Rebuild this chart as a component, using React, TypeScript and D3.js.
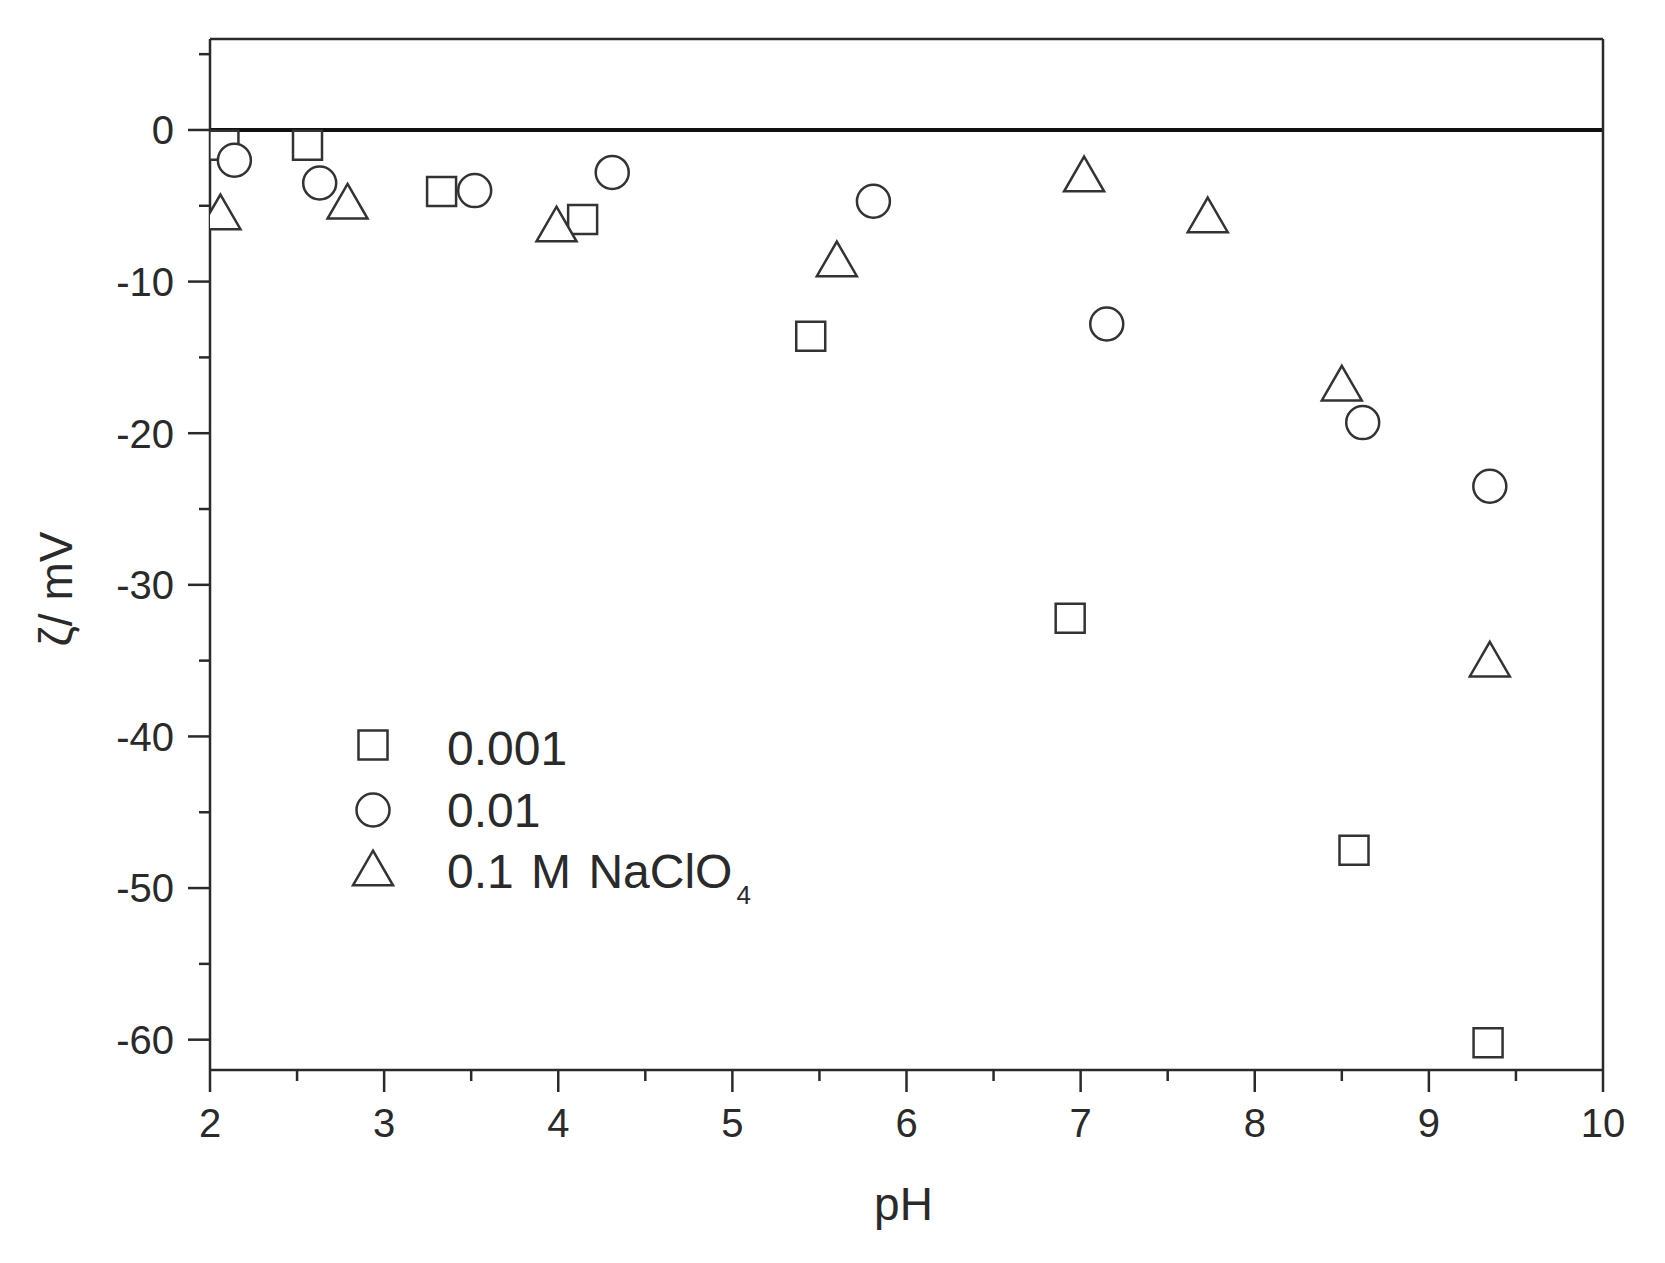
import React from 'react';
import * as d3 from 'd3';

// pH / zeta potential (mV) for each NaClO4 concentration
const phLow = [2.08, 2.56, 3.33, 4.14, 5.45, 6.94, 8.57, 9.34];
const zetaLow = [-1.0, -1.0, -4.05, -5.9, -13.6, -32.2, -47.5, -60.2];

const phMid = [2.14, 2.63, 3.52, 4.31, 5.81, 7.15, 8.62, 9.35];
const zetaMid = [-2.0, -3.5, -4.0, -2.8, -4.7, -12.8, -19.3, -23.5];

const phHigh = [2.06, 2.79, 3.99, 5.6, 7.02, 7.73, 8.5, 9.35];
const zetaHigh = [-5.4, -4.7, -6.2, -8.5, -2.9, -5.6, -16.7, -34.9];

const xTicks = [2, 3, 4, 5, 6, 7, 8, 9, 10];
const xMinorTicks = [2.5, 3.5, 4.5, 5.5, 6.5, 7.5, 8.5, 9.5];
const yTicks = [0, -10, -20, -30, -40, -50, -60];
const yMinorTicks = [5, -5, -15, -25, -35, -45, -55];

const legendLabels = ['0.001', '0.01', '0.1 M NaClO'];
const legendSub = ['', '', '4'];

const W = 1665;
const H = 1263;
const L = 210, R = 1603, T = 39, B = 1070;
const FONT = '"Liberation Sans", Arial, sans-serif';
const INK = '#2a2a2a';

export default function App() {
  const x = d3.scaleLinear().domain([2, 10]).range([L, R]);
  const y = d3.scaleLinear().domain([6, -62]).range([T, B]);

  const sq = d3.symbol().type(d3.symbolSquare).size(29 * 29)()!;
  const ci = d3.symbol().type(d3.symbolCircle).size(Math.PI * 16.5 * 16.5)()!;
  const triSize = 693;
  const tr = d3.symbol().type(d3.symbolTriangle).size(triSize)()!;
  const ty = Math.sqrt(triSize / (Math.sqrt(3) * 3));
  const triOff = ty / 2; // shift so bbox centre sits at the data point

  const series = [
    { xs: phLow, ys: zetaLow, path: sq, off: 0 },
    { xs: phMid, ys: zetaMid, path: ci, off: 0 },
    { xs: phHigh, ys: zetaHigh, path: tr, off: triOff },
  ];

  const legendY = [765, 827, 888];
  const legendSymY = [745, 810, 868];
  const legendPaths = [sq, ci, tr];
  const legendOff = [0, 0, triOff];

  return (
    <div style={{ position: 'absolute', left: 0, top: 0 }}>
      <svg width={W} height={H} style={{ display: 'block', background: '#fff' }}>
        <defs>
          <clipPath id="plotclip">
            <rect x={L} y={T} width={R - L} height={B - T} />
          </clipPath>
        </defs>
        <rect x={0} y={0} width={W} height={H} fill="#fff" />

        {/* zero line */}
        <line x1={L} x2={R} y1={y(0)} y2={y(0)} stroke="#111" strokeWidth={4} />

        {/* frame */}
        <line x1={L} x2={R} y1={T} y2={T} stroke={INK} strokeWidth={2.5} />
        <line x1={R} x2={R} y1={T} y2={B} stroke={INK} strokeWidth={2.5} />
        <line x1={L} x2={L} y1={T} y2={B} stroke={INK} strokeWidth={2.5} />
        <line x1={L} x2={R} y1={B} y2={B} stroke={INK} strokeWidth={2.5} />

        {/* x ticks */}
        {xTicks.map((t) => (
          <g key={'xt' + t}>
            <line x1={x(t)} x2={x(t)} y1={B} y2={B + 22} stroke={INK} strokeWidth={2.5} />
            <text x={x(t)} y={B + 67} textAnchor="middle" fontFamily={FONT} fontSize={40} fill={INK}>
              {t}
            </text>
          </g>
        ))}
        {xMinorTicks.map((t) => (
          <line key={'xm' + t} x1={x(t)} x2={x(t)} y1={B} y2={B + 11} stroke={INK} strokeWidth={2.5} />
        ))}

        {/* y ticks */}
        {yTicks.map((t) => (
          <g key={'yt' + t}>
            <line x1={L - 22} x2={L} y1={y(t)} y2={y(t)} stroke={INK} strokeWidth={2.5} />
            <text x={L - 36} y={y(t)} dy="0.36em" textAnchor="end" fontFamily={FONT} fontSize={40} fill={INK}>
              {t}
            </text>
          </g>
        ))}
        {yMinorTicks.map((t) => (
          <line key={'ym' + t} x1={L - 11} x2={L} y1={y(t)} y2={y(t)} stroke={INK} strokeWidth={2.5} />
        ))}

        {/* axis titles */}
        <text x={(L + R) / 2 - 3} y={1220} textAnchor="middle" fontFamily={FONT} fontSize={46} fill={INK}>
          pH
        </text>
        <text
          transform={`translate(72, 589) rotate(-90)`}
          textAnchor="middle"
          fontFamily={FONT}
          fontSize={46}
          fill={INK}
        >
          ζ/ mV
        </text>

        {/* markers */}
        <g clipPath="url(#plotclip)">
          {series.map((s, si) =>
            s.xs.map((px, i) => (
              <path
                key={`m${si}-${i}`}
                d={s.path}
                transform={`translate(${x(px)}, ${y(s.ys[i]) + s.off})`}
                fill="#fff"
                stroke="#333"
                strokeWidth={2.5}
              />
            ))
          )}
        </g>

        {/* legend */}
        {legendLabels.map((lab, i) => (
          <g key={'lg' + i}>
            <path
              d={legendPaths[i]}
              transform={`translate(373, ${legendSymY[i] + legendOff[i]})`}
              fill="#fff"
              stroke="#333"
              strokeWidth={2.5}
            />
            <text x={447} y={legendY[i]} fontFamily={FONT} fontSize={48} wordSpacing={4} fill={INK}>
              {lab}
              {legendSub[i] ? (
                <tspan fontSize={26} dx={4} dy={16}>
                  {legendSub[i]}
                </tspan>
              ) : null}
            </text>
          </g>
        ))}
      </svg>
    </div>
  );
}
